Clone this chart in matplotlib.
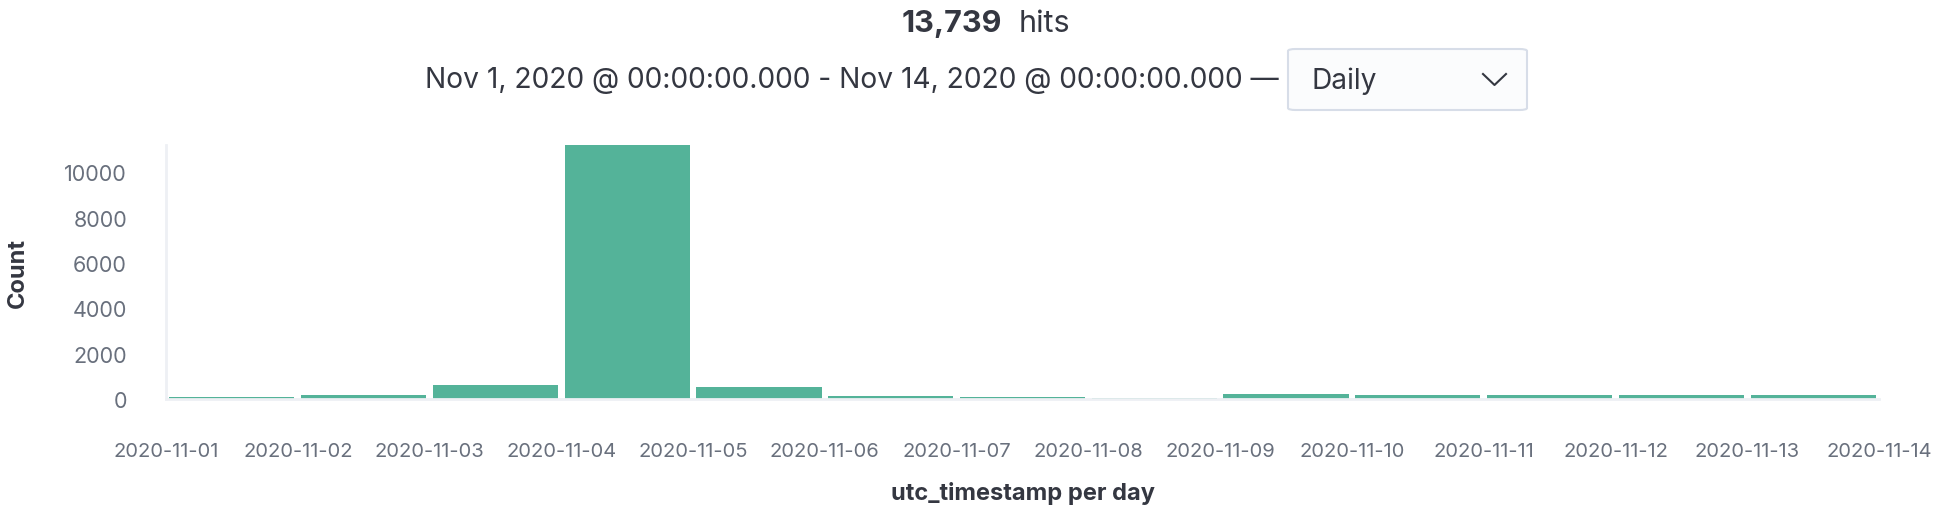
import numpy as np
import pandas as pd
import matplotlib
matplotlib.use('Agg')
import matplotlib.pyplot as plt
import matplotlib.dates as mdates
from matplotlib.patches import FancyBboxPatch
from matplotlib.lines import Line2D

# daily buckets and hit counts
days = ['2020-11-01', '2020-11-02', '2020-11-03', '2020-11-04', '2020-11-05',
        '2020-11-06', '2020-11-07', '2020-11-08', '2020-11-09', '2020-11-10',
        '2020-11-11', '2020-11-12', '2020-11-13']
counts = [70, 185, 610, 11200, 520, 125, 70, 45, 210, 185, 170, 170, 179]
tick_days = days + ['2020-11-14']
y_ticks = [0, 2000, 4000, 6000, 8000, 10000]

total_hits = '13,739'
time_range = 'Nov 1, 2020 @ 00:00:00.000 - Nov 14, 2020 @ 00:00:00.000 \u2014'
interval = 'Daily'

BAR = '#54B399'
DARK = '#343741'
SUB = '#69707D'
AXIS = '#EEF0F4'
W, H = 1942, 510

plt.rcParams['font.family'] = ['Inter', 'DejaVu Sans']

fig = plt.figure(figsize=(W / 100, H / 100), dpi=100)

def fx(px): return px / W
def fy(py): return 1 - py / H

ax = fig.add_axes([fx(166), fy(400), fx(1879) - fx(166), fy(146) - fy(400)])

x = mdates.date2num(pd.to_datetime(days))
ax.bar(x + 0.5, counts, width=0.95, color=BAR, linewidth=0)

ticks = mdates.date2num(pd.to_datetime(tick_days))
ax.set_xlim(ticks[0], ticks[-1])
ax.set_ylim(0, max(counts))
ax.set_xticks(ticks)
ax.set_xticklabels(tick_days)
ax.set_yticks(y_ticks)
ax.tick_params(axis='x', length=0, labelsize=14.5, labelcolor=SUB, pad=31)
ax.tick_params(axis='y', length=0, labelsize=15.5, labelcolor=SUB, pad=28)

for s in ['top', 'right']:
  ax.spines[s].set_visible(False)
for s in ['left', 'bottom']:
  ax.spines[s].set_color(AXIS)
  ax.spines[s].set_linewidth(2)

ax.set_ylabel('Count', fontsize=17, fontweight='bold', color=DARK)
ax.yaxis.set_label_coords(fx(18 - 166) / (fx(1879) - fx(166)), 0.5)
ax.set_xlabel('utc_timestamp per day', fontsize=17, fontweight='bold', color=DARK)
ax.xaxis.set_label_coords(0.5, (fy(494) - fy(400)) / (fy(146) - fy(400)))
ax.xaxis.label.set_va('center')
ax.yaxis.label.set_va('center')

# header: hit count
fig.text(fx(1002), fy(32), total_hits, ha='right', va='baseline',
         fontsize=22, fontweight='bold', color=DARK)
fig.text(fx(1019), fy(32), 'hits', ha='left', va='baseline',
         fontsize=22, color=DARK)

# time range line and interval dropdown
fig.text(fx(1279), fy(88), time_range, ha='right', va='baseline',
         fontsize=20.3, color=DARK)
box = FancyBboxPatch((fx(1288), fy(111)), fx(1527) - fx(1288), fy(50) - fy(111),
                     boxstyle='round,pad=0,rounding_size=0.004',
                     transform=fig.transFigure, facecolor='#FBFCFD',
                     edgecolor='#D7DDE8', linewidth=1.5)
fig.add_artist(box)
fig.text(fx(1311), fy(89), interval, ha='left', va='baseline',
         fontsize=20.3, color=DARK)
fig.add_artist(Line2D([fx(1483), fx(1494.5), fx(1506)], [fy(75), fy(86), fy(75)],
                      transform=fig.transFigure, color=DARK, linewidth=1.5))

fig.savefig('out.png', dpi=100)
